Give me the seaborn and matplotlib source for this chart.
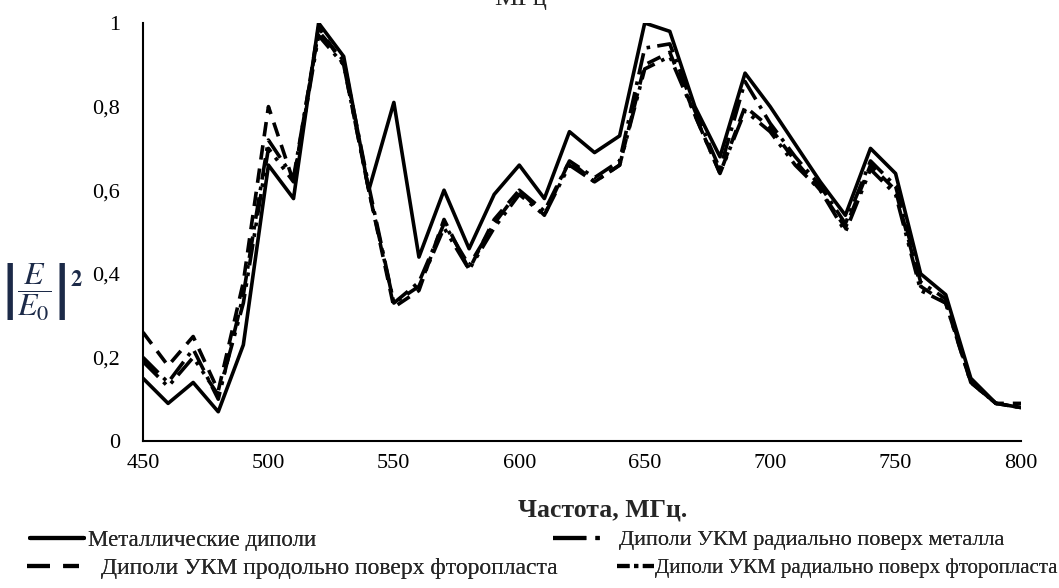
import numpy as np
import pandas as pd
import matplotlib
matplotlib.use("Agg")
import matplotlib.pyplot as plt
from matplotlib.lines import Line2D
import seaborn as sns

# ---- data ----
freq = list(range(450, 801, 10))
metal = [0.15, 0.09, 0.14, 0.07, 0.23, 0.66, 0.58, 1.00, 0.92, 0.60,
         0.81, 0.44, 0.60, 0.46, 0.59, 0.66, 0.58, 0.74, 0.69, 0.73,
         1.00, 0.98, 0.80, 0.68, 0.88, 0.80, 0.71, 0.62, 0.54, 0.70,
         0.64, 0.40, 0.35, 0.15, 0.09, 0.08]
radial_metal = [0.20, 0.14, 0.22, 0.10, 0.35, 0.72, 0.63, 0.98, 0.91, 0.61,
                0.33, 0.38, 0.52, 0.42, 0.52, 0.60, 0.55, 0.67, 0.63, 0.67,
                0.94, 0.95, 0.79, 0.65, 0.86, 0.76, 0.68, 0.61, 0.52, 0.67,
                0.61, 0.38, 0.34, 0.14, 0.09, 0.08]
long_ptfe = [0.26, 0.18, 0.25, 0.12, 0.38, 0.80, 0.62, 0.99, 0.90, 0.60,
             0.32, 0.36, 0.53, 0.41, 0.53, 0.60, 0.54, 0.67, 0.62, 0.66,
             0.90, 0.93, 0.78, 0.64, 0.80, 0.75, 0.67, 0.60, 0.51, 0.66,
             0.60, 0.37, 0.33, 0.14, 0.09, 0.09]
radial_ptfe = [0.19, 0.13, 0.20, 0.11, 0.33, 0.70, 0.62, 0.97, 0.90, 0.60,
               0.33, 0.37, 0.51, 0.41, 0.51, 0.59, 0.54, 0.66, 0.62, 0.66,
               0.89, 0.92, 0.78, 0.64, 0.79, 0.74, 0.66, 0.60, 0.50, 0.65,
               0.59, 0.36, 0.33, 0.14, 0.09, 0.08]

series_names = ["Металлические диполи",
                "Диполи УКМ радиально поверх металла",
                "Диполи УКМ продольно поверх фторопласта",
                "Диполи УКМ радиально поверх фторопласта"]
series_values = [metal, radial_metal, long_ptfe, radial_ptfe]

x_ticks = [450, 500, 550, 600, 650, 700, 750, 800]
y_ticks = [0, 0.2, 0.4, 0.6, 0.8, 1.0]
y_tick_labels = ["0", "0,2", "0,4", "0,6", "0,8", "1"]
x_label = "Частота, МГц."
y_label = r"$\left|\dfrac{E}{E_0}\right|^{\mathbf{2}}$"
top_text = "МГц"

# ---- styles ----
dash_styles = {
    series_names[0]: "",
    series_names[1]: (6, 2, 1, 2),
    series_names[2]: (4, 2.5),
    series_names[3]: (6, 2, 1, 2, 1, 2),
}
legend_dashes = {
    series_names[0]: None,
    series_names[1]: (8.0, 2.2, 1.0, 12),
    series_names[2]: (5.5, 3.2),
    series_names[3]: (3.0, 1.1, 1.0, 1.1, 3.0, 4),
}

df = pd.concat([pd.DataFrame({"freq": freq, "value": v, "series": n})
                for n, v in zip(series_names, series_values)], ignore_index=True)

sns.set_style("white")
plt.rcParams["font.family"] = ["Liberation Serif", "DejaVu Serif"]
plt.rcParams["mathtext.fontset"] = "stix"

W, H = 1059, 588
fig = plt.figure(figsize=(W / 100, H / 100), dpi=100)
ax = fig.add_axes([143 / W, 1 - 441 / H, (1021 - 143) / W, (441 - 23) / H])

LW = 2.6
sns.lineplot(data=df, x="freq", y="value", style="series", style_order=series_names[::-1],
             dashes=dash_styles, color="black", linewidth=LW, legend=False, ax=ax)

ax.set_xlim(450, 800)
ax.set_ylim(0, 1)
ax.set_xticks(x_ticks)
ax.set_xticklabels([str(t) for t in x_ticks])
ax.set_yticks(y_ticks)
ax.set_yticklabels(y_tick_labels)
for s in ["top", "right"]:
    ax.spines[s].set_visible(False)
for s in ["left", "bottom"]:
    ax.spines[s].set_color("black")
    ax.spines[s].set_linewidth(1.5)
ax.tick_params(axis="both", direction="inout", length=11, width=1.5, color="black",
               labelsize=16, labelcolor="black")
ax.tick_params(axis="y", pad=11)
ax.tick_params(axis="x", pad=4)
ax.grid(False)
ax.set_xlabel(x_label, fontsize=18.5, fontweight="bold", va="center")
ax.xaxis.set_label_coords((603 - 143) / (1021 - 143), (441 - 510) / (441 - 23))
ax.set_ylabel("")

fig.text(42 / W, 1 - 292 / H, y_label, fontsize=23, color="#1c2a48",
         ha="center", va="center")
fig.text(521 / W, 1 - 5 / H, top_text, fontsize=19, ha="center", va="baseline")

# ---- legend (four separately placed entries, as in the original layout) ----
LLW = 3.0
entries = [
    # idx, x_px, y_px, fontsize, handle_len_px, gap_px
    (0, 30, 540, 16.5, 54, 4),
    (1, 553, 540, 16, 50, 16),
    (2, 27, 568, 17, 52, 22),
    (3, 617, 568, 15, 37, 1),
]
for idx, xp, yp, fs, hl_px, gap_px in entries:
    name = series_names[idx]
    d = legend_dashes[name]
    if d is None:
        h = Line2D([], [], color="black", linewidth=LLW, linestyle="-")
    else:
        h = Line2D([], [], color="black", linewidth=LLW, dashes=d)
    fs_px = fs * 100 / 72
    leg = fig.legend([h], [name], loc="center left",
                     bbox_to_anchor=(xp / W, 1 - yp / H), frameon=False,
                     borderpad=0, borderaxespad=0, handlelength=hl_px / fs_px,
                     handletextpad=gap_px / fs_px, fontsize=fs)
    fig.add_artist(leg)

fig.savefig("out.png", dpi=100)
